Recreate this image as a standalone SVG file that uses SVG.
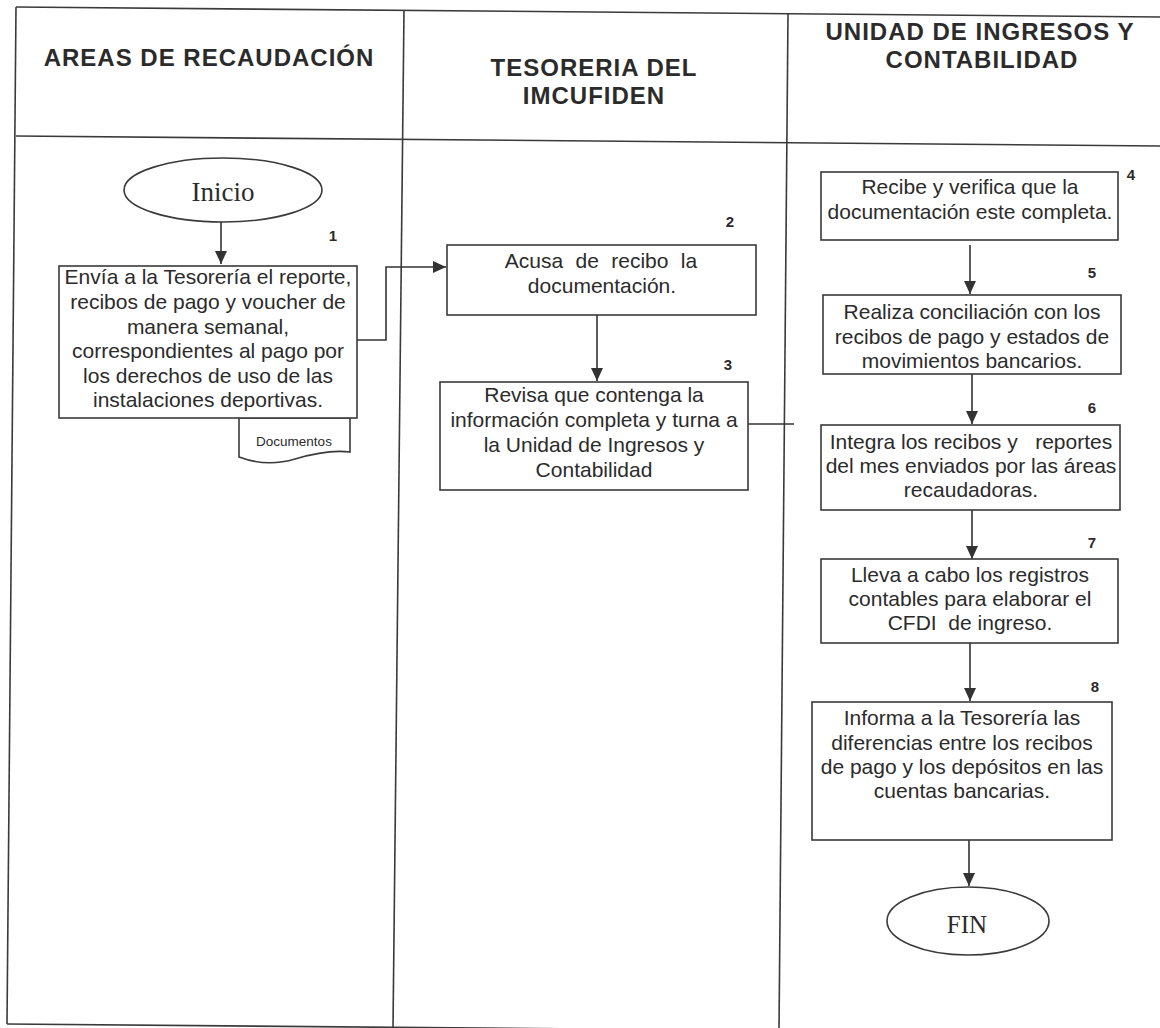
<svg xmlns="http://www.w3.org/2000/svg" width="1160" height="1028" viewBox="0 0 1160 1028">
  <defs>
    <style>
      .frame { stroke: #3a3a3a; stroke-width: 1.6; fill: none; }
      .box { fill: #ffffff; stroke: #3a3a3a; stroke-width: 1.6; }
      .txt { font-family: "Liberation Sans", Arial, sans-serif; font-size: 21px; fill: #2b2b2b; text-anchor: middle; }
      .hdr { font-size: 24px; font-weight: bold; letter-spacing: 1px; }
      .num { font-size: 15px; font-weight: bold; }
      .doc { font-size: 13.5px; }
      .term { font-family: "Liberation Serif", "Times New Roman", serif; font-size: 27px; fill: #2b2b2b; text-anchor: middle; }
      .conn { stroke: #333333; stroke-width: 1.6; fill: none; }
    </style>
    <marker id="arrow" viewBox="0 0 13 12" refX="13" refY="6" markerWidth="13" markerHeight="12" markerUnits="userSpaceOnUse" orient="auto">
      <path d="M0,0 L13,6 L0,12 Z" fill="#333333"/>
    </marker>
  </defs>

  <rect width="1160" height="1028" fill="#ffffff"/>

  <!-- swimlane frame (page sits slightly skewed) -->
  <g id="frame">
    <line class="frame" x1="16" y1="7" x2="1160" y2="17"/>
    <line class="frame" x1="16" y1="136" x2="1160" y2="146"/>
    <line class="frame" x1="16" y1="7" x2="7" y2="1024"/>
    <line class="frame" x1="404" y1="10" x2="393" y2="1028"/>
    <line class="frame" x1="788" y1="14" x2="779" y2="1030"/>
    <line class="frame" x1="7" y1="1024" x2="1160" y2="1034" stroke-width="2.2"/>
  </g>

  <!-- lane headers -->
  <g id="headers">
    <text class="txt hdr" x="209" y="66">AREAS DE RECAUDACIÓN</text>
    <text class="txt hdr" x="594" y="76">TESORERIA DEL</text>
    <text class="txt hdr" x="594" y="104">IMCUFIDEN</text>
    <text class="txt hdr" x="980" y="40">UNIDAD DE INGRESOS Y</text>
    <text class="txt hdr" x="982" y="68">CONTABILIDAD</text>
  </g>

  <!-- connectors -->
  <g id="connectors">
    <path class="conn" d="M221,222 V264" marker-end="url(#arrow)"/>
    <path class="conn" d="M357,340 H386 V267 H446" marker-end="url(#arrow)"/>
    <path class="conn" d="M597,315 V381" marker-end="url(#arrow)"/>
    <path class="conn" d="M748,424 H794"/>
    <path class="conn" d="M970,245 V294" marker-end="url(#arrow)"/>
    <path class="conn" d="M972,374 V424" marker-end="url(#arrow)"/>
    <path class="conn" d="M972,510 V559" marker-end="url(#arrow)"/>
    <path class="conn" d="M970,643 V701" marker-end="url(#arrow)"/>
    <path class="conn" d="M969,840 V886" marker-end="url(#arrow)"/>
  </g>

  <!-- start -->
  <g id="inicio">
    <ellipse class="box" cx="223" cy="190" rx="99" ry="32"/>
    <text class="term" x="223" y="201">Inicio</text>
  </g>

  <!-- step 1 -->
  <g id="step1">
    <path class="box" d="M239,418 L239,457 C255,463 275,465 295,459 C315,453 335,450 350,452 L350,418 Z"/>
    <text class="txt doc" x="294" y="446">Documentos</text>
    <rect class="box" x="59" y="266" width="298" height="152"/>
    <text class="txt num" x="333" y="241">1</text>
    <text class="txt" x="208" y="284">Envía a la Tesorería el reporte,</text>
    <text class="txt" x="208" y="309">recibos de pago y voucher de</text>
    <text class="txt" x="208" y="334">manera semanal,</text>
    <text class="txt" x="208" y="358">correspondientes al pago por</text>
    <text class="txt" x="208" y="383">los derechos de uso de las</text>
    <text class="txt" x="208" y="407">instalaciones deportivas.</text>
  </g>

  <!-- step 2 -->
  <g id="step2">
    <rect class="box" x="447" y="245" width="309" height="70"/>
    <text class="txt num" x="730" y="227">2</text>
    <text class="txt" x="601" y="268" word-spacing="6.5">Acusa de recibo la</text>
    <text class="txt" x="602" y="293">documentación.</text>
  </g>

  <!-- step 3 -->
  <g id="step3">
    <rect class="box" x="440" y="382" width="308" height="108"/>
    <text class="txt num" x="728" y="370">3</text>
    <text class="txt" x="594" y="402">Revisa que contenga la</text>
    <text class="txt" x="594" y="427">información completa y turna a</text>
    <text class="txt" x="594" y="452">la Unidad de Ingresos y</text>
    <text class="txt" x="594" y="477">Contabilidad</text>
  </g>

  <!-- step 4 -->
  <g id="step4">
    <rect class="box" x="821" y="172" width="297" height="68"/>
    <text class="txt num" x="1131" y="180">4</text>
    <text class="txt" x="970" y="194">Recibe y verifica que la</text>
    <text class="txt" x="970" y="219">documentación este completa.</text>
  </g>

  <!-- step 5 -->
  <g id="step5">
    <rect class="box" x="823" y="295" width="298" height="79"/>
    <text class="txt num" x="1092" y="278">5</text>
    <text class="txt" x="972" y="319">Realiza conciliación con los</text>
    <text class="txt" x="972" y="344">recibos de pago y estados de</text>
    <text class="txt" x="972" y="368">movimientos bancarios.</text>
  </g>

  <!-- step 6 -->
  <g id="step6">
    <rect class="box" x="821" y="425" width="299" height="85"/>
    <text class="txt num" x="1092" y="413">6</text>
    <text class="txt" x="971" y="449" xml:space="preserve">Integra los recibos y   reportes</text>
    <text class="txt" x="971" y="473">del mes enviados por las áreas</text>
    <text class="txt" x="971" y="497">recaudadoras.</text>
  </g>

  <!-- step 7 -->
  <g id="step7">
    <rect class="box" x="821" y="559" width="297" height="84"/>
    <text class="txt num" x="1092" y="548">7</text>
    <text class="txt" x="970" y="582">Lleva a cabo los registros</text>
    <text class="txt" x="970" y="606">contables para elaborar el</text>
    <text class="txt" x="970" y="630" xml:space="preserve">CFDI  de ingreso.</text>
  </g>

  <!-- step 8 -->
  <g id="step8">
    <rect class="box" x="812" y="702" width="300" height="138"/>
    <text class="txt num" x="1095" y="692">8</text>
    <text class="txt" x="962" y="725">Informa a la Tesorería las</text>
    <text class="txt" x="962" y="750">diferencias entre los recibos</text>
    <text class="txt" x="962" y="774">de pago y los depósitos en las</text>
    <text class="txt" x="962" y="798">cuentas bancarias.</text>
  </g>

  <!-- end -->
  <g id="fin">
    <ellipse class="box" cx="968" cy="921" rx="81" ry="34"/>
    <text class="term" x="967" y="933" style="font-size:25px">FIN</text>
  </g>
</svg>
